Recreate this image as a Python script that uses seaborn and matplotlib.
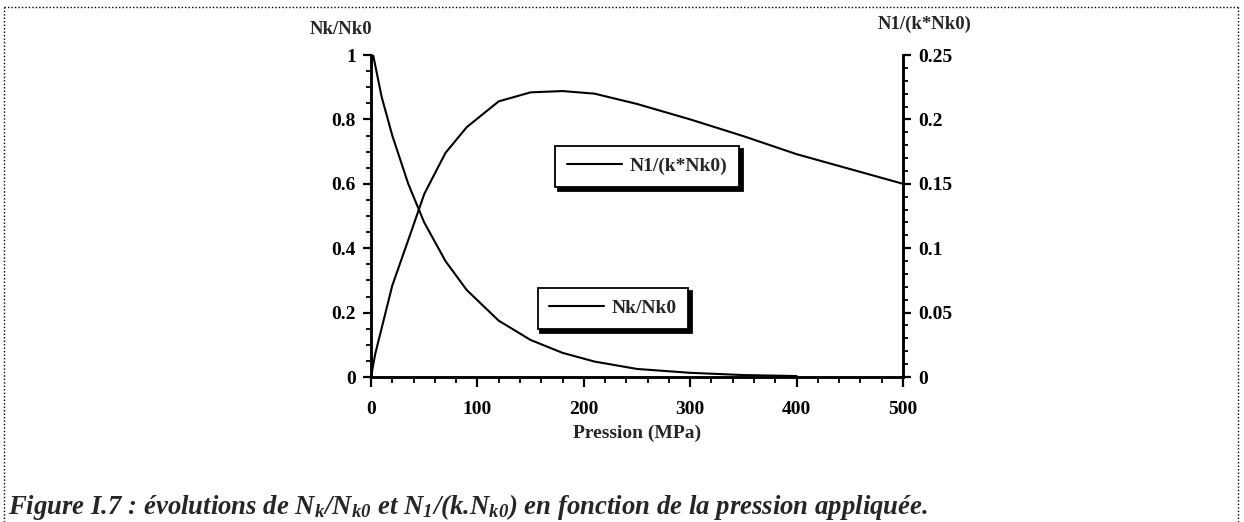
import matplotlib
matplotlib.use("Agg")
import matplotlib.pyplot as plt
import seaborn as sns
import pandas as pd
from matplotlib.lines import Line2D
from matplotlib.ticker import MultipleLocator, FormatStrFormatter

# Data
pression_nk = [0, 2, 10, 20, 35, 50, 70, 90, 120, 150, 180, 210, 250, 300, 350, 400]
nk_nk0 = [1.0, 1.0, 0.87, 0.75, 0.60, 0.48, 0.36, 0.27, 0.175, 0.115, 0.075, 0.048, 0.025, 0.013, 0.006, 0.003]

pression_n1 = [0, 4, 20, 37, 50, 70, 90, 120, 150, 180, 210, 250, 300, 350, 400, 500]
n1_kn0 = [0.0, 0.018, 0.071, 0.111, 0.142, 0.174, 0.194, 0.214, 0.221, 0.222, 0.220, 0.212, 0.200, 0.187, 0.173, 0.150]

left_ticks = [0, 0.2, 0.4, 0.6, 0.8, 1]
right_ticks = [0, 0.05, 0.1, 0.15, 0.2, 0.25]
x_ticks = [0, 100, 200, 300, 400, 500]

sns.set_style("ticks")
plt.rcParams['font.family'] = ['Liberation Serif', 'DejaVu Serif']
plt.rcParams['font.weight'] = 'bold'
plt.rcParams['mathtext.fontset'] = 'custom'
plt.rcParams['mathtext.rm'] = 'Liberation Serif:italic:bold'
plt.rcParams['mathtext.it'] = 'Liberation Serif:italic:bold'
plt.rcParams['mathtext.bf'] = 'Liberation Serif:italic:bold'

W, H = 1244, 522
fig = plt.figure(figsize=(W / 100, H / 100), dpi=100)
ax = fig.add_axes([371 / W, 1 - 377 / H, (903 - 371) / W, (377 - 55) / H])
ax2 = ax.twinx()

df_nk = pd.DataFrame({"P": pression_nk, "v": nk_nk0})
df_n1 = pd.DataFrame({"P": pression_n1, "v": n1_kn0})

sns.lineplot(data=df_nk, x="P", y="v", ax=ax, color="black", lw=1.5, legend=False)
sns.lineplot(data=df_n1, x="P", y="v", ax=ax2, color="black", lw=1.5, legend=False)

ax.set_xlim(0, 500)
ax.set_ylim(0, 1)
ax2.set_ylim(0, 0.25)

for a in (ax, ax2):
    a.spines['top'].set_visible(False)
    for s in ('left', 'right', 'bottom'):
        a.spines[s].set_linewidth(1.8)
        a.spines[s].set_color('black')
    a.set_ylabel("")

ax.set_xticks(x_ticks)
ax.xaxis.set_minor_locator(MultipleLocator(20))
ax.set_yticks(left_ticks)
ax.yaxis.set_minor_locator(MultipleLocator(0.05))
ax.yaxis.set_major_formatter(FormatStrFormatter('%g'))
ax2.set_yticks(right_ticks)
ax2.yaxis.set_minor_locator(MultipleLocator(0.01))
ax2.yaxis.set_major_formatter(FormatStrFormatter('%g'))

for a in (ax, ax2):
    a.tick_params(which='major', direction='out', length=6, width=1.6, labelsize=14, colors='black', pad=5)
    a.tick_params(which='minor', direction='out', length=3.5, width=1.3, colors='black')
    for lab in a.get_xticklabels() + a.get_yticklabels():
        lab.set_fontweight('bold')
ax.tick_params(axis='x', which='major', length=7, pad=10.5)
ax.tick_params(axis='x', which='minor', length=4)

ax.set_xlabel("Pression (MPa)", fontsize=14, fontweight='bold', labelpad=4.5)

fig.text(310 / W, 1 - 29 / H, "Nk/Nk0", fontsize=13.5, fontweight='bold', ha='left', va='center')
fig.text(878 / W, 1 - 24 / H, "N1/(k*Nk0)", fontsize=13.5, fontweight='bold', ha='left', va='center')

# legends with solid black shadows
shadow_props = {'color': 'black', 'alpha': 1, 'linewidth': 2.0}
h1 = [Line2D([0], [0], color='black', lw=1.5)]
leg1 = ax2.legend(h1, ["N1/(k*Nk0)"], loc='center', bbox_to_anchor=(0.519, 0.654),
                  frameon=True, fancybox=False, shadow=shadow_props,
                  prop={'weight': 'bold', 'size': 14}, handlelength=2.8, handletextpad=0.4,
                  borderpad=0.6, borderaxespad=0)
leg1.get_frame().set_edgecolor('black')
leg1.get_frame().set_linewidth(1.3)
ax2.add_artist(leg1)

h2 = [Line2D([0], [0], color='black', lw=1.5)]
leg2 = ax2.legend(h2, ["Nk/Nk0"], loc='center', bbox_to_anchor=(0.455, 0.213),
                  frameon=True, fancybox=False, shadow=shadow_props,
                  prop={'weight': 'bold', 'size': 14}, handlelength=2.8, handletextpad=0.4,
                  borderpad=0.6, borderaxespad=0)
leg2.get_frame().set_edgecolor('black')
leg2.get_frame().set_linewidth(1.3)

# caption
fig.text(8 / W, 1 - 507 / H,
         "Figure I.7 : évolutions de N$_k$/N$_{k0}$ et N$_1$/(k.N$_{k0}$) en fonction de la pression appliquée.",
         fontsize=19.3, fontweight='bold', style='italic', ha='left', va='center')

# dotted frame
for xs, ys in [([4 / W, 1238 / W], [1 - 7 / H, 1 - 7 / H]),
               ([4 / W, 4 / W], [0.0, 1 - 7 / H]),
               ([1238 / W, 1238 / W], [0.0, 1 - 7 / H])]:
    fig.add_artist(Line2D(xs, ys, transform=fig.transFigure, color='black', lw=1.0, ls=(0, (1, 1.5))))

fig.savefig("out.png", dpi=100)
